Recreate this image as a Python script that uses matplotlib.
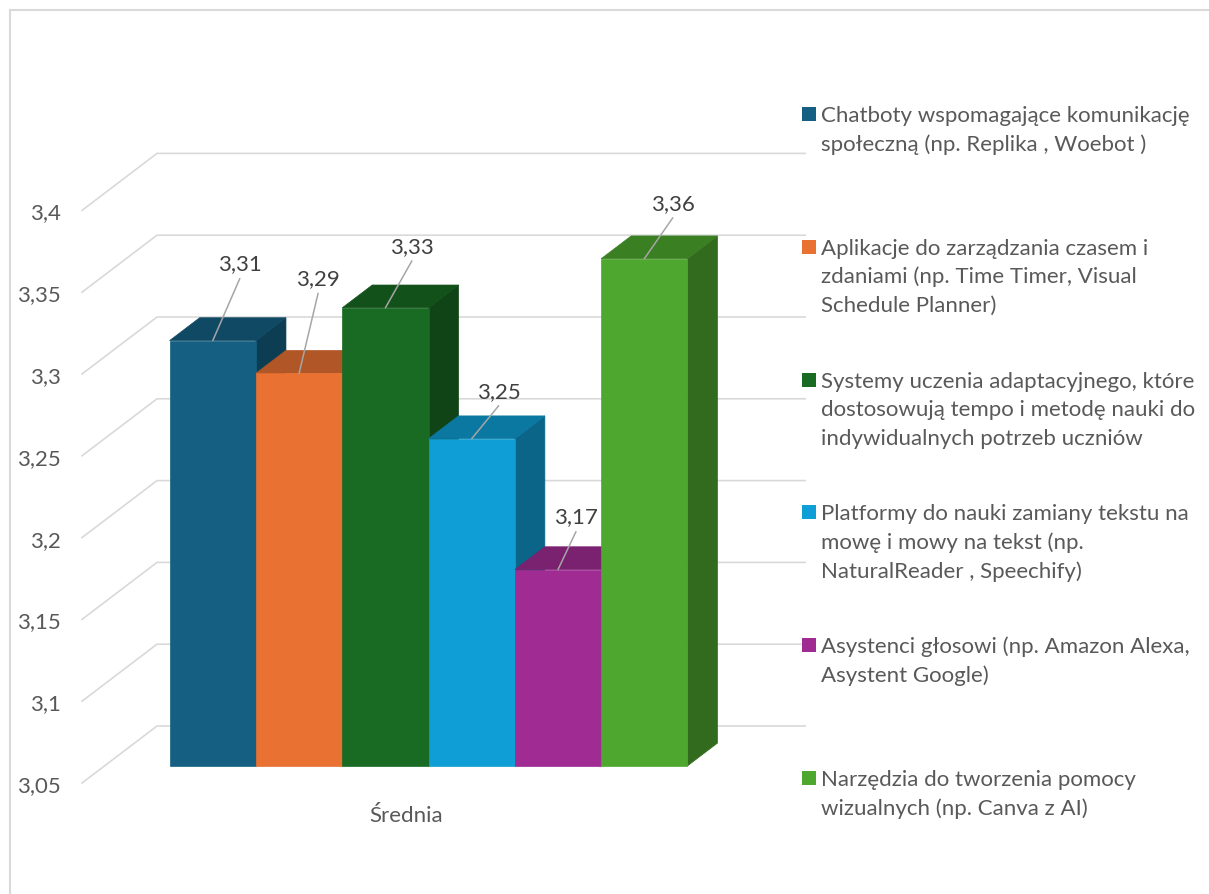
import matplotlib
matplotlib.use('Agg')
import matplotlib.pyplot as plt
from matplotlib.patches import Polygon, Rectangle
from matplotlib.lines import Line2D

plt.rcParams['font.family'] = ['Lato', 'DejaVu Sans']

# średnie oceny narzędzi
series_names = [
    'Chatboty wspomagające komunikację\nspołeczną (np. Replika , Woebot )',
    'Aplikacje do zarządzania czasem i\nzdaniami (np. Time Timer, Visual\nSchedule Planner)',
    'Systemy uczenia adaptacyjnego, które\ndostosowują tempo i metodę nauki do\nindywidualnych potrzeb uczniów',
    'Platformy do nauki zamiany tekstu na\nmowę i mowy na tekst (np.\nNaturalReader , Speechify)',
    'Asystenci głosowi (np. Amazon Alexa,\nAsystent Google)',
    'Narzędzia do tworzenia pomocy\nwizualnych (np. Canva z AI)',
]
values = [3.31, 3.29, 3.33, 3.25, 3.17, 3.36]
colors = ['#156082', '#E97132', '#196B24', '#0F9ED5', '#A02B93', '#4EA72E']
y_ticks = [3.05, 3.1, 3.15, 3.2, 3.25, 3.3, 3.35, 3.4]
group_label = 'Średnia'

# przesunięcia etykiet danych (piksele względem środka górnej krawędzi słupka)
label_offsets = [(27, 79), (19, 97), (26.5, 64), (27, 50), (18, 55), (28.5, 58)]

W, H = 1209, 895
FS = 16
TXT = '#595959'
GRID = '#D9D9D9'

# rzut pseudo-3D: głębokość d przesuwa punkt w prawo i w górę
KX = 75 / 86.3
KY = 57 / 1636
D0, D1 = 0.3, 0.7
BASE = y_ticks[0]
XL, XR = -0.755, len(values) + 0.755


def proj(x, v, d):
    return x + KX * d, v + KY * d


def shade(c, k):
    r, g, b = matplotlib.colors.to_rgb(c)
    return (r * k, g * k, b * k)


def fpx(x, y):
    return x / W, 1 - y / H


fig = plt.figure(figsize=(W / 100, H / 100), dpi=100)
ax = fig.add_axes([82 / W, 1 - 784 / H, (805 - 82) / W, (784 - 154) / H])
ax.set_xlim(XL, XL + (805 - 82) / 86.3)
ax.set_ylim(BASE, BASE + 630 / 1636)
ax.patch.set_visible(False)
for s in ax.spines.values():
    s.set_visible(False)
ax.set_xticks([])
ax.set_yticks(y_ticks, [f'{t:g}'.replace('.', ',') for t in y_ticks])
ax.tick_params(axis='y', length=0, pad=15, labelsize=FS, labelcolor=TXT)

# ściana boczna i tylna z liniami siatki
for t in y_ticks:
    pts = [proj(XL, t, 0), proj(XL, t, 1), proj(XR, t, 1)]
    ax.plot([p[0] for p in pts], [p[1] for p in pts], color=GRID, lw=1.2,
            clip_on=False, zorder=1)

# słupki: bok, góra, przód
for i, (v, c) in enumerate(zip(values, colors)):
    side = [proj(i + 1, BASE, D0), proj(i + 1, v, D0), proj(i + 1, v, D1), proj(i + 1, BASE, D1)]
    top = [proj(i, v, D0), proj(i + 1, v, D0), proj(i + 1, v, D1), proj(i, v, D1)]
    front = [proj(i, BASE, D0), proj(i + 1, BASE, D0), proj(i + 1, v, D0), proj(i, v, D0)]
    z = 2 + i
    for poly, k in ((side, 0.64), (top, 0.76), (front, 1.0)):
        col = shade(c, k)
        ax.add_patch(Polygon(poly, closed=True, facecolor=col, edgecolor=col,
                             lw=0.5, clip_on=False, zorder=z))

# etykiety danych z liniami odniesienia
for i, (v, (dx, dy)) in enumerate(zip(values, label_offsets)):
    tc = proj(i + 0.5, v, D0)
    ax.annotate(f'{v:.2f}'.replace('.', ','), xy=tc, xytext=(dx, dy - 8),
                textcoords='offset pixels', ha='center', va='baseline',
                fontsize=FS, color='#404040', zorder=20, annotation_clip=False)
    ax.annotate('', xy=tc, xytext=(dx, dy - 17), textcoords='offset pixels',
                arrowprops=dict(arrowstyle='-', color='#A6A6A6', lw=1.1,
                                shrinkA=0, shrinkB=0),
                zorder=20, annotation_clip=False)

ax.annotate(group_label, xy=proj(len(values) / 2, BASE, 0), xytext=(0, -38),
            textcoords='offset pixels', ha='center', va='baseline',
            fontsize=FS, color=TXT, annotation_clip=False)

# legenda
for k, (name, c) in enumerate(zip(series_names, colors)):
    y0 = 122 + k * 132.8
    x0, y1 = fpx(802, y0)
    fig.add_artist(Rectangle((x0, y1), 14 / W, 14 / H, facecolor=c,
                             edgecolor='none', transform=fig.transFigure))
    for j, line in enumerate(name.split('\n')):
        fig.text(*fpx(821, y0 + j * 28.7), line, fontsize=FS, color=TXT,
                 ha='left', va='baseline')

# ramka obszaru wykresu
fig.add_artist(Line2D([10 / W, 10 / W], [0, 1 - 11 / H], color=GRID, lw=1.5,
                      transform=fig.transFigure))
fig.add_artist(Line2D([10 / W, 1], [1 - 11 / H, 1 - 11 / H], color=GRID, lw=1.5,
                      transform=fig.transFigure))

fig.savefig('out.png', dpi=100)
